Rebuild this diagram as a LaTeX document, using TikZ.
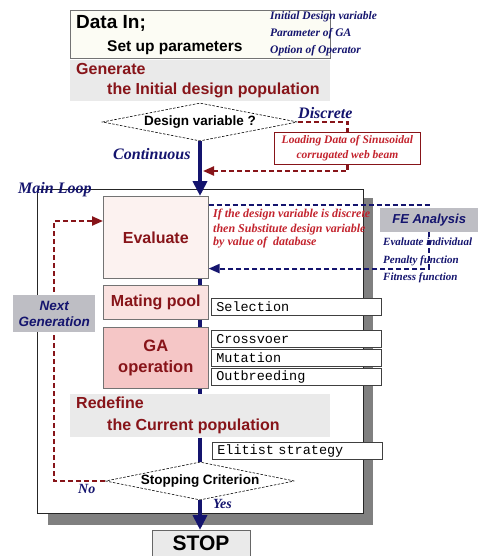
\documentclass[tikz,border=0pt]{standalone}
\usepackage{fontspec}
\setmainfont{Liberation Serif}
\setsansfont{Liberation Sans}
\setmonofont{Liberation Mono}
\usetikzlibrary{arrows.meta,shapes.geometric}
\definecolor{navy}{RGB}{20,20,110}
\definecolor{dred}{RGB}{135,20,25}
\definecolor{bred}{RGB}{195,35,45}
\definecolor{lgray}{RGB}{234,234,234}
\definecolor{mgray}{RGB}{190,190,196}
\definecolor{shad}{RGB}{128,128,128}
\definecolor{pinka}{RGB}{252,242,240}
\definecolor{pinkb}{RGB}{250,226,224}
\definecolor{pinkc}{RGB}{245,198,198}
\definecolor{cream}{RGB}{252,252,244}
\newcommand{\fsz}[1]{\fontsize{#1pt}{#1pt}\selectfont}
\tikzset{
 txt/.style={inner sep=0pt, anchor=base west},
 hsans/.style={txt, font=\sffamily\bfseries\fsz{16}, text=dred},
 note/.style={txt, font=\rmfamily\bfseries\itshape\fsz{11.5}, text=navy},
 rnote/.style={txt, font=\rmfamily\bfseries\itshape\fsz{12}, text=bred},
 lbl/.style={txt, font=\rmfamily\bfseries\itshape\fsz{16}, text=navy},
 box/.style={draw=black!55, line width=0.6pt, inner sep=0pt, anchor=north west},
 opbox/.style={draw=black!75, fill=white, line width=0.6pt, anchor=north west,
   text width=160pt, inner xsep=5pt, inner ysep=0pt, minimum height=17pt,
   font=\ttfamily\fsz{13.5}, align=left},
 dia/.style={diamond, draw=black, dash pattern=on 2.5pt off 1.5pt, line width=0.6pt, inner sep=0pt},
 diatext/.style={inner sep=0pt, font=\sffamily\bfseries\fsz{13.5}},
 spine/.style={draw=navy, line width=3.5pt},
 bigarrow/.style={draw=navy, line width=4pt, -{Triangle[width=14pt,length=15pt]}},
 reddash/.style={draw=dred, line width=2.2pt, dash pattern=on 5pt off 3pt},
 bluedash/.style={draw=navy, line width=2.2pt, dash pattern=on 5pt off 3pt},
 smalltip/.style={-{Triangle[width=9pt,length=11pt]}},
}
\begin{document}
\begin{tikzpicture}[x=1pt,y=-1pt]
\useasboundingbox (0,0) rectangle (478,556);

% Data in
\node[box, fill=cream, minimum width=260pt, minimum height=48pt] (datain) at (70,10) {};
\node[txt, font=\sffamily\bfseries\fsz{19}] (t1) at (76,29) {Data In;};
\node[txt, font=\sffamily\bfseries\fsz{15.5}] (t2) at (107,52) {Set up parameters};
\node[note] (n1) at (270,20) {Initial Design variable};
\node[note] (n2) at (270,37) {Parameter of GA};
\node[note] (n3) at (270,54) {Option of Operator};

% Generate
\node[box, draw=none, fill=lgray, minimum width=260pt, minimum height=41pt] (gen) at (70,60) {};
\node[hsans] (g1) at (76,75) {Generate};
\node[hsans] (g2) at (107,95) {the Initial design population};

% Design variable diamond
\node[dia, minimum width=195pt, minimum height=38pt] (dv) at (200,122) {};
\node[diatext] (dvt) at (200,122) {Design variable ?};

% Loading data box
\node[draw=dred, fill=white, line width=0.8pt, minimum width=146pt, minimum height=32pt, inner sep=0pt, anchor=north west] (ld) at (274,132) {};
\node[inner sep=0pt, font=\rmfamily\bfseries\itshape\fsz{11.5}, text=bred, align=center] (ldt) at (ld.center) {Loading Data of Sinusoidal\\[4pt]corrugated web beam};

\draw[reddash] (dv.east) -| (ld.north);
\node[lbl] (disc) at (298,119) {Discrete};

\node[lbl] (cont) at (113,160) {Continuous};

% Main loop shadow + box
\node[fill=shad, minimum width=325pt, minimum height=327pt, inner sep=0pt, anchor=north west] (shadow) at (48,198) {};
\node[draw=black!85, fill=white, line width=1pt, minimum width=326pt, minimum height=324pt, inner sep=0pt, anchor=north west] (main) at (37,189) {};
\node[lbl] (ml) at (18,193) {Main Loop};

% FE analysis
\node[fill=mgray, minimum width=98pt, minimum height=24pt, inner sep=0pt, anchor=north west] (fe) at (380,208) {};
\node[inner sep=0pt, font=\sffamily\bfseries\itshape\fsz{13}, text=navy] (fet) at (fe.center) {FE Analysis};
\node[note, font=\rmfamily\bfseries\itshape\fsz{11}] (e1) at (383,245) {Evaluate individual};
\node[note, font=\rmfamily\bfseries\itshape\fsz{11}] (e2) at (383,263) {Penalty function};
\node[note, font=\rmfamily\bfseries\itshape\fsz{11}] (e3) at (383,280) {Fitness function};

% Red loop line (behind Next Generation)
\coordinate (lp) at (54,221);
\coordinate (lp2) at (103,221);

% Process boxes
\node[box, fill=pinka, minimum width=105pt, minimum height=82pt] (eval) at (103,196) {};
\node[inner sep=0pt, font=\sffamily\bfseries\fsz{16}, text=dred] (evt) at (eval.center) {Evaluate};
\node[box, fill=pinkb, minimum width=105pt, minimum height=34pt] (mate) at (103,285) {};
\node[inner sep=0pt, font=\sffamily\bfseries\fsz{16}, text=dred] (mt) at (mate.center) {Mating pool};
\node[box, fill=pinkc, minimum width=105pt, minimum height=61pt] (ga) at (103,327) {};
\node[inner sep=0pt, font=\sffamily\bfseries\fsz{16.5}, text=dred, align=center] (gat) at (ga.center) {GA\\[4pt]operation};

\node[opbox] (sel) at (211,298) {Selection};
\node[opbox] (cro) at (211,330) {Crossvoer};
\node[opbox] (mut) at (211,349) {Mutation};
\node[opbox] (outb) at (211,368) {Outbreeding};

% Redefine
\node[box, draw=none, fill=lgray, minimum width=260pt, minimum height=43pt] (redef) at (70,394) {};
\node[hsans] (r1) at (76,408) {Redefine};
\node[hsans] (r2) at (107,430) {the Current population};

\node[opbox] (eli) at (212,442) {Elitist strategy};

% Stopping diamond
\node[dia, fill=white, minimum width=189pt, minimum height=38pt] (sc) at (200,481) {};
\node[diatext] (sct) at (200,481) {Stopping Criterion};

% STOP
\node[draw=black!60, fill=lgray, line width=0.6pt, minimum width=98pt, minimum height=30pt, inner sep=0pt, anchor=north west] (stop) at (152,530) {};
\node[inner sep=0pt, font=\sffamily\bfseries\fsz{21}] (stopt) at (201,543) {STOP};

% Red text
\node[rnote] (i1) at (213,217) {If the design variable is discrete};
\node[rnote] (i2) at (213,232) {then Substitute design variable};
\node[rnote] (i3) at (213,245) {by value of\ \ database};

% Spine
\draw[spine] (eval.south -| dv.south) -- (mate.north -| dv.south);
\draw[spine] (mate.south -| dv.south) -- (ga.north -| dv.south);
\draw[spine] (ga.south -| dv.south) -- (redef.north -| dv.south);
\draw[spine] (redef.south -| dv.south) -- (sc.north);

% Big arrows
\draw[bigarrow] (dv.south) -- (eval.north -| dv.south);
\draw[bigarrow] (sc.south) -- (stop.north -| sc.south);

% Red dashed back to main arrow
\coordinate (rtip) at (203,171);
\draw[reddash, smalltip] (ld.south) |- (rtip);

% Blue dashed FE loop
\draw[bluedash] ([yshift=-9pt]eval.north east) -| (fe.north);
\draw[bluedash, smalltip] (fe.south) |- ([yshift=10pt]eval.south east);

% Red loop: Stopping -> Evaluate
\draw[reddash, smalltip] (sc.west) -| (lp) -- (lp2);

% Next generation
\node[fill=mgray, minimum width=82pt, minimum height=37pt, inner sep=0pt, anchor=north west] (ng) at (13,295) {};
\node[inner sep=0pt, font=\sffamily\bfseries\itshape\fsz{13.5}, text=navy, align=center] (ngt) at (ng.center) {Next\\[2pt]Generation};

% No / Yes
\node[lbl, font=\rmfamily\bfseries\itshape\fsz{14}] (no) at (78,493) {No};
\node[lbl, font=\rmfamily\bfseries\itshape\fsz{14}] (yes) at (213,508) {Yes};
\end{tikzpicture}
\end{document}
